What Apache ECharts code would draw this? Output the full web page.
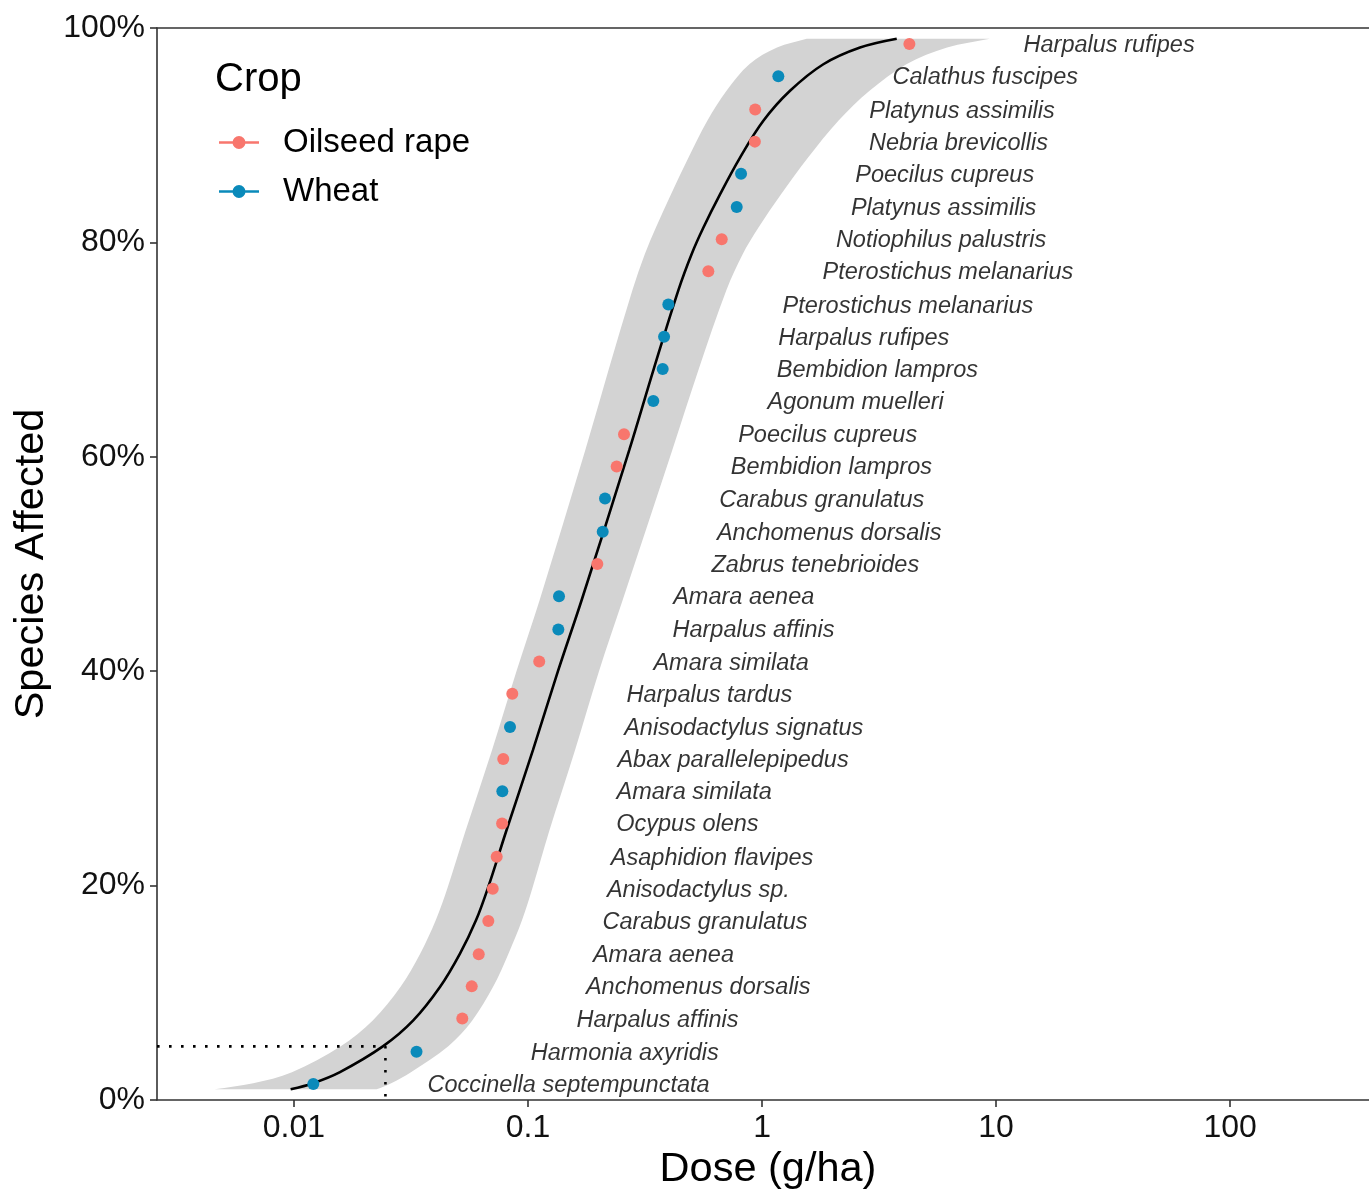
<!DOCTYPE html>
<html>
<head>
<meta charset="utf-8">
<script src="https://cdn.jsdelivr.net/npm/echarts@6/dist/echarts.min.js"></script>
<style>
html,body{margin:0;padding:0;background:#fff;}
#chart{width:1369px;height:1191px;}
</style>
</head>
<body>
<div id="chart"></div>
<script>
// ---- data ----
const SPECIES = [
  "Coccinella septempunctata","Harmonia axyridis","Harpalus affinis","Anchomenus dorsalis",
  "Amara aenea","Carabus granulatus","Anisodactylus sp.","Asaphidion flavipes","Ocypus olens",
  "Amara similata","Abax parallelepipedus","Anisodactylus signatus","Harpalus tardus",
  "Amara similata","Harpalus affinis","Amara aenea","Zabrus tenebrioides","Anchomenus dorsalis",
  "Carabus granulatus","Bembidion lampros","Poecilus cupreus","Agonum muelleri","Bembidion lampros",
  "Harpalus rufipes","Pterostichus melanarius","Pterostichus melanarius","Notiophilus palustris",
  "Platynus assimilis","Poecilus cupreus","Nebria brevicollis","Platynus assimilis",
  "Calathus fuscipes","Harpalus rufipes"
];
const CROP = [
  "Wheat","Wheat","Oilseed rape","Oilseed rape","Oilseed rape","Oilseed rape","Oilseed rape",
  "Oilseed rape","Oilseed rape","Wheat","Oilseed rape","Wheat","Oilseed rape","Oilseed rape",
  "Wheat","Wheat","Oilseed rape","Wheat","Wheat","Oilseed rape","Oilseed rape","Wheat","Wheat",
  "Wheat","Wheat","Oilseed rape","Oilseed rape","Wheat","Wheat","Oilseed rape","Oilseed rape",
  "Wheat","Oilseed rape"
];
const DOSE = [
  0.0121,0.0334,0.0524,0.0575,0.0616,0.0677,0.0707,0.0735,0.0775,0.0777,0.0784,0.0838,0.0857,
  0.1117,0.1348,0.1357,0.1978,0.2086,0.2134,0.2393,0.2572,0.3431,0.3763,0.3815,0.3978,
  0.5896,0.6726,0.7796,0.8135,0.932,0.935,1.174,4.262
];
const PCT = [
  1.5,4.5,7.6,10.6,13.6,16.7,19.7,22.7,25.8,28.8,31.8,34.8,37.9,40.9,43.9,47.0,50.0,
  53.0,56.1,59.1,62.1,65.2,68.2,71.2,74.2,77.3,80.3,83.3,86.4,89.4,92.4,95.5,98.5
];

// fitted curve and its confidence band, read at the same percent levels
const FIT_PCT = [1.0,1.57,2.6,5.02,7.42,10.53,13.65,16.76,19.87,25.0,
  32.63,40.0,46.64,60.64,68.27,75.58,78.88,81.37,84.48,87.91,91.34,94.14,96.62,98.18,99.0];
const FIT_DOSE = [0.00968,0.01209,0.01573,0.02407,0.03235,0.04206,0.05122,0.05996,0.06765,0.0805,
  0.1050,0.1343,0.1696,0.2710,0.3455,0.4396,0.4996,0.5612,0.6614,0.8055,1.013,1.317,1.828,2.623,3.763];
const LOWER_DOSE = [0.004583,0.006700,0.009805,0.01585,0.02172,0.02851,0.03463,0.04036,0.04544,0.05390,
  0.07018,0.08930,0.1122,0.1758,0.2220,0.2797,0.3152,0.3517,0.4085,0.4852,0.5838,0.7053,0.8824,1.159,1.552];
const UPPER_DOSE = [0.02256,0.02604,0.03162,0.04566,0.05781,0.07086,0.08253,0.09428,0.1048,0.1229,
  0.1588,0.2011,0.2539,0.4137,0.5380,0.7053,0.8255,0.9643,1.206,1.573,2.119,2.880,4.137,6.174,9.399];

const HC5_DOSE = 0.0246;
const HC5_PCT = 5;
const X_TICKS = [0.01, 0.1, 1, 10, 100];
const X_MIN = 0.0026;
const X_MAX = 392;
const LABEL_SHIFT = 3;
const CROPS = ["Oilseed rape", "Wheat"];
const COLORS = {"Oilseed rape": "#F8766D", "Wheat": "#0A8ABA"};

// ---- chart ----
const FONT = "'Liberation Sans', Arial, Helvetica, sans-serif";
const chart = echarts.init(document.getElementById('chart'), null, {renderer: 'canvas'});

function pairs(xs, ys) { return xs.map((x, i) => [x, ys[i]]); }

// smooth path through pixel points with chord-length scaled handles (no overshoot)
function smoothSegments(pts) {
  const n = pts.length;
  const tan = pts.map((p, i) => {
    const a = pts[Math.max(i - 1, 0)], b = pts[Math.min(i + 1, n - 1)];
    const dx = b[0] - a[0], dy = b[1] - a[1];
    const l = Math.hypot(dx, dy) || 1;
    return [dx / l, dy / l];
  });
  let d = '';
  for (let i = 0; i < n - 1; i++) {
    const p1 = pts[i], p2 = pts[i + 1];
    const L = Math.hypot(p2[0] - p1[0], p2[1] - p1[1]) / 3;
    const c1 = [p1[0] + tan[i][0] * L, p1[1] + tan[i][1] * L];
    const c2 = [p2[0] - tan[i + 1][0] * L, p2[1] - tan[i + 1][1] * L];
    d += 'C' + c1[0] + ',' + c1[1] + ' ' + c2[0] + ',' + c2[1] + ' ' + p2[0] + ',' + p2[1];
  }
  return d;
}

const pointSeries = CROPS.map(c => ({
  name: c,
  type: 'scatter',
  symbol: 'circle',
  symbolSize: 12,
  z: 5,
  itemStyle: {color: COLORS[c], opacity: 1},
  data: DOSE.map((d, i) => CROP[i] === c ? [d, PCT[i]] : null).filter(v => v),
  emphasis: {disabled: true}
}));

const ICON = 'path://M0,5.25L40,5.25L40,7.75L0,7.75Z M26.5,6.5A6.5,6.5 0 1 1 13.5,6.5A6.5,6.5 0 1 1 26.5,6.5Z';

const option = {
  animation: false,
  backgroundColor: '#ffffff',
  textStyle: {fontFamily: FONT},
  title: {
    text: 'Crop', left: 210, top: 55,
    textStyle: {fontSize: 40, fontWeight: 'normal', color: '#000', fontFamily: FONT}
  },
  legend: {
    data: CROPS.map(c => ({name: c, icon: ICON})),
    orient: 'vertical',
    left: 214, top: 121,
    itemWidth: 40, itemHeight: 13, itemGap: 16,
    textStyle: {fontSize: 33, color: '#000', fontFamily: FONT, lineHeight: 32, padding: [0, 0, 0, 19]},
    selectedMode: false
  },
  grid: {left: 157, right: 0, top: 28, bottom: 91, containLabel: false, outerBoundsMode: 'none'},
  xAxis: [{
    type: 'log', logBase: 10, min: X_MIN, max: X_MAX,
    name: 'Dose (g/ha)', nameLocation: 'middle', nameGap: 49,
    nameTextStyle: {fontSize: 41.5, color: '#000', fontFamily: FONT, padding: [0, 0, 0, 10]},
    axisLine: {show: true, onZero: false, lineStyle: {color: '#333', width: 1.6}},
    axisTick: {show: true, length: 7, customValues: X_TICKS, lineStyle: {color: '#333', width: 1.6}},
    axisLabel: {fontSize: 32, color: '#111', margin: 12, customValues: X_TICKS, fontFamily: FONT,
      formatter: v => String(+Number(v).toPrecision(3))},
    splitLine: {show: false}
  }, {
    type: 'log', logBase: 10, min: X_MIN, max: X_MAX, position: 'top',
    axisLine: {show: true, onZero: false, lineStyle: {color: '#333', width: 1.6}},
    axisTick: {show: false}, axisLabel: {show: false}, splitLine: {show: false}
  }],
  yAxis: {
    type: 'value', min: 0, max: 100, interval: 20,
    name: 'Species Affected', nameLocation: 'middle', nameGap: 104, nameRotate: 90,
    nameTextStyle: {fontSize: 41.5, color: '#000', fontFamily: FONT},
    axisLine: {show: true, lineStyle: {color: '#333', width: 1.6}},
    axisTick: {show: true, length: 7, lineStyle: {color: '#333', width: 1.6}},
    axisLabel: {fontSize: 32, color: '#111', margin: 12, formatter: '{value}%', fontFamily: FONT},
    splitLine: {show: false}
  },
  series: [
    {
      name: 'band', type: 'custom', z: 1, silent: true,
      data: [[FIT_DOSE[0], FIT_PCT[0]]],
      renderItem: function (params, api) {
        const lo = pairs(LOWER_DOSE, FIT_PCT).map(p => api.coord(p));
        const up = pairs(UPPER_DOSE, FIT_PCT).map(p => api.coord(p)).reverse();
        let d = 'M' + lo[0][0] + ',' + lo[0][1] + smoothSegments(lo);
        d += 'L' + up[0][0] + ',' + up[0][1] + smoothSegments(up) + 'Z';
        return {type: 'path', shape: {pathData: d}, style: {fill: '#D3D3D3', stroke: null}};
      }
    },
    {
      name: 'hc5', type: 'line', z: 2, silent: true, symbol: 'none',
      data: [[X_MIN, HC5_PCT], [HC5_DOSE, HC5_PCT], [HC5_DOSE, 0]],
      lineStyle: {color: '#000', width: 2.6, type: [2.6, 9.4], cap: 'butt'}
    },
    {
      name: 'fit', type: 'line', z: 3, silent: true, symbol: 'none', smooth: 0.35,
      data: pairs(FIT_DOSE, FIT_PCT),
      lineStyle: {color: '#000', width: 2.6}
    },
    ...pointSeries,
    {
      name: 'labels', type: 'scatter', z: 6, silent: true, symbol: 'circle', symbolSize: 1,
      data: DOSE.map((d, i) => ({value: [d * LABEL_SHIFT, PCT[i]], name: SPECIES[i]})),
      itemStyle: {color: 'rgba(0,0,0,0)'},
      label: {
        show: true, position: 'right', distance: 2, offset: [0, 1.5],
        formatter: p => p.name,
        fontSize: 23.5, fontStyle: 'italic', color: '#000', fontFamily: FONT
      },
      emphasis: {disabled: true}
    }
  ]
};
chart.setOption(option);
</script>
</body>
</html>
